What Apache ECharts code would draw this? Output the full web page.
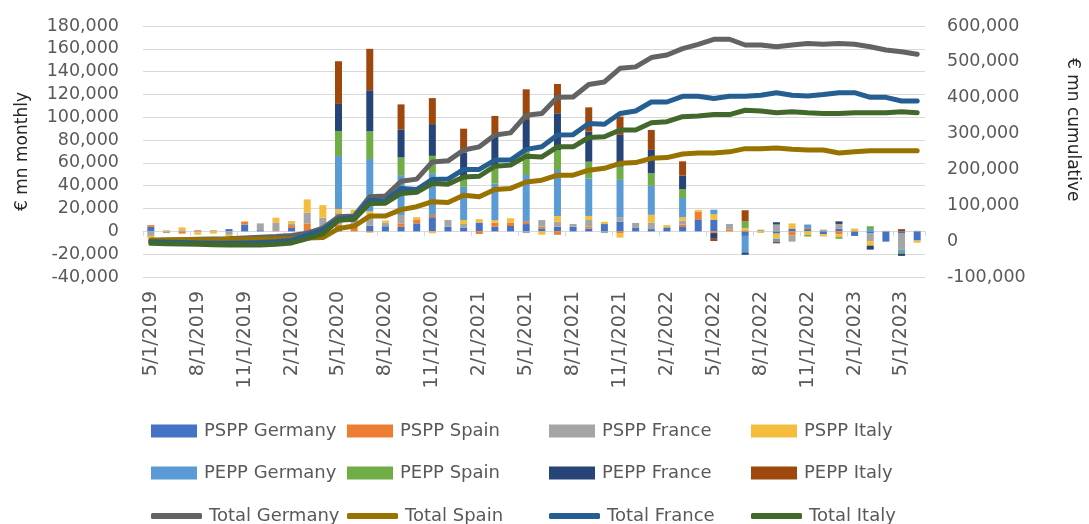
<!DOCTYPE html>
<html>
<head>
<meta charset="utf-8">
<script src="https://cdn.jsdelivr.net/npm/echarts@6/dist/echarts.min.js"></script>
<style>
  html, body { margin: 0; padding: 0; background: #fff; }
  #chart { width: 1089px; height: 524px; }
</style>
</head>
<body>
<div id="chart"></div>
<script>
  // months, May 2019 .. Jun 2023
  var months = [
    '5/1/2019','6/1/2019','7/1/2019','8/1/2019','9/1/2019','10/1/2019','11/1/2019','12/1/2019',
    '1/1/2020','2/1/2020','3/1/2020','4/1/2020','5/1/2020','6/1/2020','7/1/2020','8/1/2020','9/1/2020','10/1/2020','11/1/2020','12/1/2020',
    '1/1/2021','2/1/2021','3/1/2021','4/1/2021','5/1/2021','6/1/2021','7/1/2021','8/1/2021','9/1/2021','10/1/2021','11/1/2021','12/1/2021',
    '1/1/2022','2/1/2022','3/1/2022','4/1/2022','5/1/2022','6/1/2022','7/1/2022','8/1/2022','9/1/2022','10/1/2022','11/1/2022','12/1/2022',
    '1/1/2023','2/1/2023','3/1/2023','4/1/2023','5/1/2023','6/1/2023'
  ];

  // monthly net purchases, EUR mn
  var psppGermany = [4000,0,0,0,0,2000,6000,1000,0,3000,1000,0,3000,0,5000,4500,4000,7000,12400,4000,
    3000,7700,4000,4700,6400,2600,4000,4000,2400,6400,8600,3000,2000,3500,3800,10000,10000,0,-4000,0,
    -2000,2500,2000,-2500,2500,-4000,-1500,-9000,-2000,-8000];
  var psppSpain = [1500,0,-2000,1000,0,0,2500,0,0,2500,6000,3000,3000,4500,-1000,0,3000,3500,2000,0,
    0,-2300,3500,3000,2000,1500,-3000,0,1800,0,-1500,0,0,0,2000,7300,-1500,1500,1000,0,
    0,-3500,1000,0,-2500,0,0,0,0,0];
  var psppFrance = [-4000,-1500,1000,-1000,1000,-3000,0,6000,7500,1500,9500,9000,10000,11000,9600,3000,7300,0,0,6000,
    3500,0,0,0,-1500,5800,4400,2500,5800,-1500,3500,4400,5800,0,3500,0,0,5000,0,1500,
    6000,-5500,0,1500,4000,0,-7000,0,-14000,500];
  var psppItaly = [-2000,1000,2500,-2000,-2000,-2000,500,0,4500,2000,11500,11000,3500,3500,2900,2000,0,2000,-1700,0,
    3500,3000,2300,3800,0,-3000,5000,0,3500,2000,-4000,0,6700,2000,3200,1500,5000,0,2000,-1500,
    -4500,4500,-3000,-2000,-2500,2500,-4000,500,0,-2000];
  var peppGermany = [0,0,0,0,0,0,0,0,0,0,0,0,46500,0,45900,0,35000,0,36000,0,
    29000,0,32000,0,41000,0,40400,0,33000,0,33000,0,25400,0,16700,0,4000,0,-14500,0,
    -2500,0,3000,0,0,0,2000,0,-2000,0];
  var peppSpain = [0,0,0,0,0,0,0,0,0,0,0,0,22000,0,24300,0,15500,0,15800,0,
    9000,0,14600,0,21900,0,17500,0,14600,0,11700,0,11000,0,7900,0,0,0,6000,0,
    0,0,-1500,0,-1500,0,2500,0,-1500,0];
  var peppFrance = [0,0,0,0,0,0,0,0,0,0,0,0,23700,0,36000,0,24600,0,27800,0,
    21000,0,27800,0,26300,0,32200,0,26300,0,27800,0,20500,0,11700,0,-5000,0,-2000,0,
    2000,0,0,0,2000,0,-3500,0,-2000,0];
  var peppItaly = [0,0,0,0,0,0,0,0,0,0,0,0,37400,0,36300,0,21900,0,22800,0,
    21000,0,17000,0,26900,0,25700,0,21300,0,16000,0,17500,0,12600,0,-2000,0,9500,0,
    -1500,0,0,0,500,0,0,0,2000,0];

  // cumulative totals, EUR mn
  var totalGermany = [2000,3000,4000,5000,6000,7000,9000,11000,13000,16000,22000,36000,68000,70000,124000,126000,167000,173000,221000,224000,
    254000,263000,296000,302000,351000,356000,401000,402000,437000,444000,482000,486000,512000,519000,537000,549000,563000,563000,547000,547000,
    542000,547000,551000,549000,551000,549000,542000,533000,528000,521000];
  var totalSpain = [3000,3000,4000,4000,4000,5000,5000,6000,6000,7000,9000,10000,35000,42000,70000,70000,88000,96000,110000,108000,
    128000,124000,144000,147000,165000,170000,184000,184000,198000,203000,217000,219000,231000,233000,243000,246000,246000,249000,258000,258000,
    260000,256000,254000,254000,246000,249000,252000,252000,252000,252000];
  var totalFrance = [-2000,-3000,-4000,-5000,-6000,-6000,-5000,-4000,-2000,2000,17000,31000,61000,67000,114000,112000,147000,144000,172000,173000,
    200000,200000,226000,226000,256000,263000,296000,297000,328000,326000,356000,363000,388000,388000,404000,404000,398000,404000,404000,407000,
    414000,407000,405000,409000,414000,414000,401000,401000,391000,391000];
  var totalItaly = [-6000,-7000,-8000,-9000,-10000,-11000,-11000,-11000,-9000,-5000,7000,21000,58000,61000,105000,106000,133000,136000,161000,159000,
    179000,181000,209000,212000,237000,235000,263000,263000,289000,291000,310000,310000,330000,333000,347000,349000,353000,353000,365000,363000,
    358000,361000,358000,356000,356000,358000,358000,358000,361000,358000];

  var barNames = ['PSPP Germany','PSPP Spain','PSPP France','PSPP Italy','PEPP Germany','PEPP Spain','PEPP France','PEPP Italy'];
  var barData = [psppGermany, psppSpain, psppFrance, psppItaly, peppGermany, peppSpain, peppFrance, peppItaly];
  var barColors = ['#4472C4','#ED7D31','#A5A5A5','#F4BE3C','#5B9BD5','#70AD47','#264478','#9E480E'];

  var lineNames = ['Total Germany','Total Spain','Total France','Total Italy'];
  var lineData = [totalGermany, totalSpain, totalFrance, totalItaly];
  var lineColors = ['#636363','#997300','#255E91','#43682B'];

  var font = 'DejaVu Sans';
  var txt = '#595959';

  var series = [];
  barNames.forEach(function (n, i) {
    series.push({
      name: n, type: 'bar', stack: 'monthly', xAxisIndex: 0, yAxisIndex: 0,
      barWidth: 7, data: barData[i], itemStyle: { color: barColors[i] }
    });
  });
  lineNames.forEach(function (n, i) {
    series.push({
      name: n, type: 'line', xAxisIndex: 0, yAxisIndex: 1, symbol: 'none', z: 5,
      data: lineData[i], lineStyle: { color: lineColors[i], width: 5, cap: 'round', join: 'round' },
      itemStyle: { color: lineColors[i] }
    });
  });

  function fmt(v) { return v.toLocaleString('en-US'); }

  // one legend per entry so the columns line up like the original
  var colX = [146, 342, 544, 746];
  var rowY = [430, 472, 515];
  var legends = [];
  [['PSPP Germany','PSPP Spain','PSPP France','PSPP Italy'],
   ['PEPP Germany','PEPP Spain','PEPP France','PEPP Italy'],
   lineNames].forEach(function (row, r) {
    row.forEach(function (n, c) {
      var isLine = r === 2;
      legends.push({
        left: colX[c], top: rowY[r] - 14, orient: 'horizontal',
        itemWidth: isLine ? 51 : 46, itemHeight: isLine ? 6 : 13, itemGap: 0,
        icon: isLine ? 'roundRect' : 'rect',
        data: [n], selectedMode: false,
        textStyle: { fontFamily: font, fontSize: 18, color: txt, lineHeight: 20, padding: [0, 0, 0, 2] }
      });
    });
  });

  var myChart = echarts.init(document.getElementById('chart'));
  var option = {
    animation: false,
    backgroundColor: '#fff',
    grid: { left: 143, right: 164, top: 26, bottom: 247 },
    legend: legends,
    xAxis: [
      {
        type: 'category', data: months, position: 'bottom',
        axisLine: { onZero: true, onZeroAxisIndex: 0, lineStyle: { color: '#d9d9d9', width: 1 } },
        axisTick: { show: true, interval: 2, length: 5, lineStyle: { color: '#d9d9d9' } },
        axisLabel: { show: false }, splitLine: { show: false }
      },
      {
        type: 'category', data: months, position: 'bottom',
        axisLine: { show: false, onZero: false }, axisTick: { show: false },
        axisLabel: { interval: 2, rotate: 90, margin: 14, fontFamily: font, fontSize: 19, color: txt }
      }
    ],
    yAxis: [
      {
        type: 'value', min: -40000, max: 180000, interval: 20000,
        name: '€ mn monthly', nameLocation: 'middle', nameGap: 112,
        nameTextStyle: { fontFamily: font, fontSize: 17, color: '#262626' },
        axisLine: { show: false }, axisTick: { show: false },
        axisLabel: { formatter: fmt, fontFamily: font, fontSize: 17.5, color: txt, margin: 24 },
        splitLine: { lineStyle: { color: '#d9d9d9', width: 1 } }
      },
      {
        type: 'value', min: -100000, max: 600000, interval: 100000, position: 'right',
        axisLine: { show: false }, axisTick: { show: false },
        axisLabel: { formatter: fmt, fontFamily: font, fontSize: 17.5, color: txt, margin: 22 },
        splitLine: { show: false }
      }
    ],
    graphic: [{
      type: 'text', left: 1064, top: 58, rotation: -Math.PI / 2,
      style: { text: '€ mn cumulative', fontFamily: font, fontSize: 17, fill: '#262626' }
    }],
    series: series
  };
  myChart.setOption(option);
</script>
</body>
</html>
